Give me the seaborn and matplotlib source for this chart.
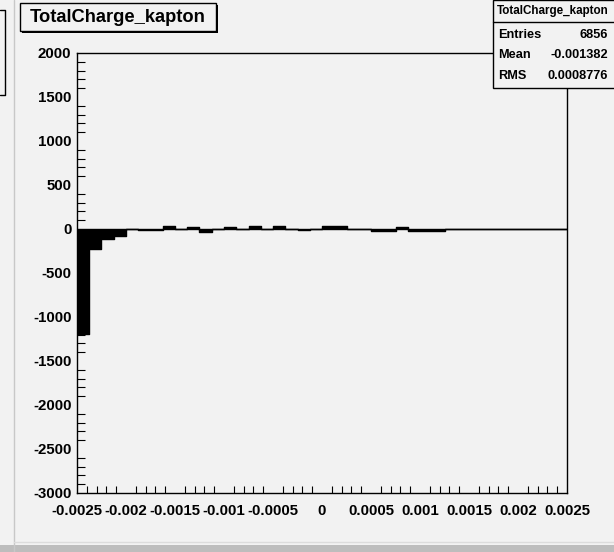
import numpy as np
import pandas as pd
import matplotlib
matplotlib.use("Agg")
import matplotlib.pyplot as plt
from matplotlib.patches import Rectangle
from matplotlib.lines import Line2D
from matplotlib.ticker import MultipleLocator, FixedLocator
import seaborn as sns

# ---- data ----
x_min, x_max = -0.0025, 0.0025
n_bins = 40
bin_values = [-1190, -230, -115, -75, -5, -15, -15, 35, 0, 22,
              -30, 0, 20, -5, 32, 0, 32, 0, -10, 5,
              37, 37, 0, 0, -20, -20, 18, -20, -20, -20,
              0, 0, 0, 0, 0, 0, 0, 0, 0, 0]
x_ticks = [-0.0025, -0.002, -0.0015, -0.001, -0.0005, 0, 0.0005, 0.001, 0.0015, 0.002, 0.0025]
x_tick_labels = ["-0.0025", "-0.002", "-0.0015", "-0.001", "-0.0005", "0",
                 "0.0005", "0.001", "0.0015", "0.002", "0.0025"]
y_ticks = [-3000, -2500, -2000, -1500, -1000, -500, 0, 500, 1000, 1500, 2000]
y_tick_labels = [str(v) for v in y_ticks]
title = "TotalCharge_kapton"
stats_rows = [("Entries", "6856"), ("Mean", "-0.001382"), ("RMS", "0.0008776")]

edges = np.linspace(x_min, x_max, n_bins + 1)
centers = (edges[:-1] + edges[1:]) / 2
df = pd.DataFrame({"charge": centers, "w": bin_values})

sns.set_theme(style="white")
plt.rcParams["font.family"] = ["Liberation Sans", "DejaVu Sans"]

BG = "#f2f2f2"
W, H = 614, 552
fig = plt.figure(figsize=(W / 100, H / 100), dpi=100, facecolor=BG)

L, R, T, B = 77, 567, 53, 493
ax = fig.add_axes([L / W, 1 - B / H, (R - L) / W, (B - T) / H])
ax.set_facecolor(BG)

sns.histplot(data=df, x="charge", weights="w", bins=n_bins, binrange=(x_min, x_max),
             element="step", fill=True, color="black", alpha=1.0, linewidth=1.0,
             edgecolor="black", ax=ax)

ax.set_xlim(x_min, x_max)
ax.set_ylim(-3000, 2000)
ax.set_xlabel("")
ax.set_ylabel("")

for s in ax.spines.values():
    s.set_color("black")
    s.set_linewidth(1.0)
    s.set_visible(True)

ax.xaxis.set_major_locator(FixedLocator(x_ticks))
ax.set_xticklabels(x_tick_labels)
ax.xaxis.set_minor_locator(MultipleLocator(0.0001))
ax.yaxis.set_major_locator(FixedLocator(y_ticks))
ax.set_yticklabels(y_tick_labels)
ax.yaxis.set_minor_locator(MultipleLocator(100))

ax.tick_params(axis="x", which="major", direction="in", length=9.5, width=0.8,
               color="black", pad=8, labelsize=10.8, top=False)
ax.tick_params(axis="x", which="minor", direction="in", length=4.8, width=0.8,
               color="black", top=False, bottom=True)
ax.tick_params(axis="y", which="major", direction="in", length=10.8, width=0.8,
               color="black", pad=4, labelsize=10.8, right=False)
ax.tick_params(axis="y", which="minor", direction="in", length=5.4, width=0.8,
               color="black", right=False, left=True)
for lab in ax.get_xticklabels() + ax.get_yticklabels():
    lab.set_fontweight("bold")
    lab.set_color("black")

# ---- decorations in pixel coordinates ----
def px(x, y):
    return x / W, 1 - y / H

# left partial pad
fig.add_artist(Line2D([14 / W, 14 / W], [0, 1], transform=fig.transFigure,
                      color="#c8c8c8", lw=1.0))
fig.add_artist(Line2D([0, 5 / W, 5 / W, 0], [1 - 10 / H, 1 - 10 / H, 1 - 95 / H, 1 - 95 / H],
                      transform=fig.transFigure, color="black", lw=1.0))

# bottom band
fig.add_artist(Rectangle((0, 0), 1, 7 / H, transform=fig.transFigure,
                         facecolor="#bdbdbd", edgecolor="none"))
fig.add_artist(Line2D([14 / W, 1], [1 - 542 / H, 1 - 542 / H], transform=fig.transFigure,
                      color="#dcdcdc", lw=1.0))

# title box with shadow
tx0, ty0, tx1, ty1 = 20, 3, 216, 31
fig.add_artist(Rectangle(px(tx0 + 2, ty1 + 2), (tx1 - tx0) / W, (ty1 - ty0) / H,
                         transform=fig.transFigure, facecolor="black", edgecolor="none"))
fig.add_artist(Rectangle(px(tx0, ty1), (tx1 - tx0) / W, (ty1 - ty0) / H,
                         transform=fig.transFigure, facecolor=BG, edgecolor="black", lw=1.0))
fig.text(*px((tx0 + tx1) / 2, (ty0 + ty1) / 2 + 1), title, ha="center", va="center",
         fontsize=13.2, fontweight="bold", color="black")

# stats box
sx0, sy0, sx1, sy1 = 493, 0, 616, 88
fig.add_artist(Rectangle(px(sx0, sy1), (sx1 - sx0) / W, (sy1 - sy0) / H,
                         transform=fig.transFigure, facecolor=BG, edgecolor="black", lw=1.0))
fig.add_artist(Line2D([sx0 / W, 1], [1 - 22 / H, 1 - 22 / H], transform=fig.transFigure,
                      color="black", lw=1.0))
fig.text(*px(553, 11), title, ha="center", va="center", fontsize=8.4, fontweight="bold",
         color="black")
row_y = [35, 55, 76]
for (k, v), yy in zip(stats_rows, row_y):
    fig.text(*px(498, yy), k, ha="left", va="center", fontsize=9.2, fontweight="bold",
             color="black")
    fig.text(*px(608, yy), v, ha="right", va="center", fontsize=9.2, fontweight="bold",
             color="black")

fig.savefig("out.png", dpi=100, facecolor=BG)
